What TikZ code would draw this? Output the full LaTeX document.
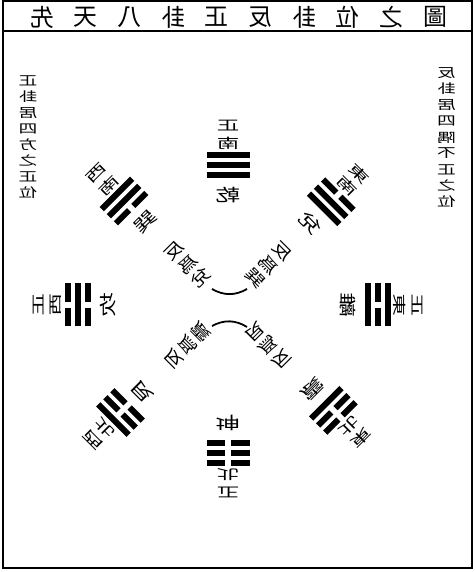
\documentclass[tikz,border=0pt]{standalone}
\usepackage{fontspec}
\newfontfamily\cjkfont{Noto Sans CJK TC}
\usetikzlibrary{positioning}

% mirrored (and stretched) glyph
\newcommand{\flipchar}[3]{\scalebox{-#1}[#2]{#3}}

\tikzset{
  frameline/.style={line width=2pt},
  yaoline/.style={line width=6pt},
  arcline/.style={line width=1.8pt},
  titlechar/.style={font=\cjkfont\fontsize{24}{24}\selectfont, inner sep=0pt},
  notechar/.style={font=\cjkfont\fontsize{15}{15}\selectfont, inner sep=0pt},
  guachar/.style={font=\cjkfont\fontsize{17}{17}\selectfont, inner sep=0pt, transform shape},
  dirchar/.style={font=\cjkfont\fontsize{15}{15}\selectfont, inner sep=0pt, transform shape},
  fanchar/.style={font=\cjkfont\fontsize{16}{16}\selectfont, inner sep=0pt, transform shape},
}

\begin{document}
\begin{tikzpicture}[x=1pt, y=1pt]
    \useasboundingbox (0,0) rectangle (474,572);
    % frame and title band
    \draw[frameline] (2.5,3.5) rectangle (471.5,571);
    \draw[frameline] (2.5,541) -- (471.5,541);
    \foreach \c [count=\i] in {先,天,八,卦,正,反,卦,位,之,圖}
        \node[titlechar] (title-\i) at ({42+43.7*(\i-1)},555) {\flipchar{1}{1}{\c}};
    % side notes
    \foreach \c [count=\i] in {正,卦,居,四,方,之,正,位}
        \node[notechar] (left-\i) at (28,{491-16*(\i-1)}) {\flipchar{1.25}{0.85}{\c}};
    \foreach \c [count=\i] in {反,卦,居,四,隅,不,正,之,位}
        \node[notechar] (right-\i) at (446.5,{499-16.1*(\i-1)}) {\flipchar{1.25}{0.85}{\c}};
    % the eight trigrams, inner line first
    \coordinate (centre) at (228,267);
    \foreach \ang/\rad/\la/\lb/\lc/\key/\gua/\dirout/\dirin in {
        90/140/1/1/1/qian/乾/正/南,
        45/146/1/1/0/dui/兌/東/南,
        0/150/1/0/1/li/離/正/東,
        -45/149/1/0/0/zhen/震/東/北,
        -90/148/0/0/0/kun/坤/正/北,
        -135/152/0/0/1/gen/艮/西/北,
        180/150/0/1/0/kan/坎/正/西,
        135/147/0/1/1/xun/巽/西/南}{
        \begin{scope}[shift={(centre)}, rotate=\ang-90]
            \foreach \v [count=\j] in {\la,\lb,\lc}{
                \pgfmathsetmacro\yy{\rad+10*(\j-2)}
                \ifnum\v=1
                    \draw[yaoline] (-21.5,\yy) -- (21.5,\yy);
                \else
                    \draw[yaoline] (-21.5,\yy) -- (-3,\yy);
                    \draw[yaoline] (3,\yy) -- (21.5,\yy);
                \fi
            }
            \node[guachar] (gua-\key) at (0,\rad-30) {\flipchar{1.45}{1}{\gua}};
            \node[dirchar] (dirin-\key) at (0,\rad+22) {\flipchar{1.5}{0.9}{\dirin}};
            \node[dirchar] (dirout-\key) at (0,\rad+39) {\flipchar{1.5}{0.9}{\dirout}};
        \end{scope}
    }
    % reversed pairs near the centre
    \foreach \ang/\key/\other in {45/dui/巽, 135/xun/兌, -135/gen/震, -45/zhen/艮}{
        \begin{scope}[shift={(centre)}, rotate=\ang-90]
            \node[fanchar] (fan-\key-1) at (0,76) {\flipchar{1.3}{1}{反}};
            \node[fanchar] (fan-\key-2) at (0,57) {\flipchar{1.3}{1}{爲}};
            \node[fanchar] (fan-\key-3) at (0,38) {\flipchar{1.3}{1}{\other}};
        \end{scope}
    }
    \coordinate (upper-l) at (212,283);
    \coordinate (upper-r) at (247,283);
    \coordinate (lower-l) at (212,246);
    \coordinate (lower-r) at (247,245);
    \draw[arcline] (upper-l) to[bend right=30] (upper-r);
    \draw[arcline] (lower-l) to[bend left=30] (lower-r);
\end{tikzpicture}
\end{document}
